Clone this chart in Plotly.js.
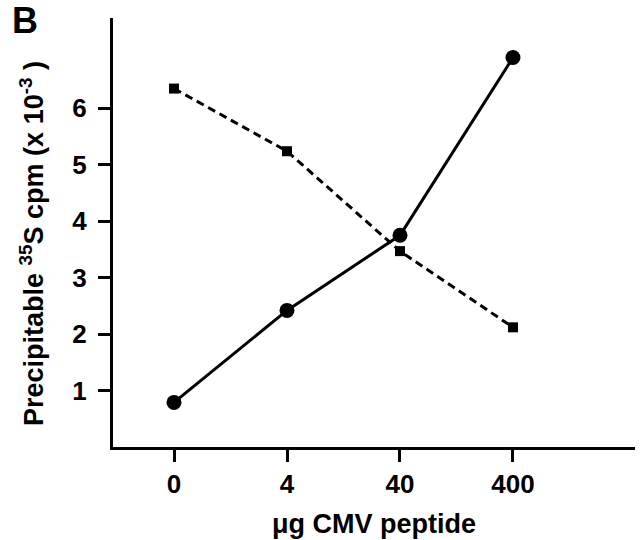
<!DOCTYPE html>
<html>
<head>
<meta charset="utf-8">
<script src="https://cdn.plot.ly/plotly-3.0.1.min.js"></script>
<style>html,body{margin:0;padding:0;background:#fff;}#chart{width:642px;height:540px;}</style>
</head>
<body>
<div id="chart"></div>
<script>
// Data
const doseLabels = ['0', '4', '40', '400'];
const circleValues = [0.79, 2.42, 3.75, 6.90];   // solid line, circles
const squareValues = [6.35, 5.24, 3.47, 2.12];   // dashed line, squares
const yTickVals = [1, 2, 3, 4, 5, 6];

const FONT = 'Liberation Sans, Arial, Helvetica, sans-serif';
const L = 113, R = 635, T = 18, B = 447;
const px2x = p => (p - L) / (R - L);
const px2y = p => (B - p) / (B - T);

const traces = [
  {
    x: doseLabels, y: squareValues, type: 'scatter', mode: 'lines+markers',
    line: {color: '#000', width: 3, dash: '8px,5px'},
    marker: {symbol: 'square', size: 10, color: '#000'},
    showlegend: false, cliponaxis: false
  },
  {
    x: doseLabels, y: circleValues, type: 'scatter', mode: 'lines+markers',
    line: {color: '#000', width: 3},
    marker: {symbol: 'circle', size: 15, color: '#000'},
    showlegend: false, cliponaxis: false
  }
];

const layout = {
  width: 642, height: 540,
  margin: {l: L, r: 642 - R, t: T, b: 540 - B},
  paper_bgcolor: '#fff', plot_bgcolor: '#fff',
  font: {family: FONT, color: '#000'},
  xaxis: {
    type: 'category',
    categoryorder: 'array', categoryarray: doseLabels,
    range: [-0.54, 4.08],
    showline: true, linecolor: '#000', linewidth: 3,
    showgrid: false, zeroline: false,
    ticks: 'outside', ticklen: 12, tickwidth: 3, tickcolor: '#000',
    tickfont: {size: 26, family: FONT, weight: 'bold'},
    title: {text: 'μg CMV peptide', font: {size: 27, family: FONT, weight: 'bold'}, standoff: 16},
    automargin: false, fixedrange: true
  },
  yaxis: {
    range: [0, 7.6],
    tickvals: yTickVals,
    showline: true, linecolor: '#000', linewidth: 3,
    showgrid: false, zeroline: false,
    ticks: 'outside', ticklen: 12, tickwidth: 3, tickcolor: '#000',
    ticklabelstandoff: 6,
    tickfont: {size: 26, family: FONT, weight: 'bold'},
    automargin: false, fixedrange: true
  },
  annotations: [
    {
      text: 'Precipitable <sup>35</sup>S cpm (x 10<sup>-3</sup> )',
      xref: 'paper', yref: 'paper', x: px2x(32), y: px2y(244),
      xanchor: 'center', yanchor: 'middle', textangle: -90, showarrow: false,
      font: {size: 27, family: FONT, weight: 'bold', color: '#000'}
    },
    {
      text: 'B', xref: 'paper', yref: 'paper',
      x: px2x(10), y: px2y(-2),
      xanchor: 'left', yanchor: 'top', showarrow: false,
      font: {size: 36, family: FONT, weight: 'bold', color: '#000'}
    }
  ]
};

Plotly.newPlot('chart', traces, layout, {displayModeBar: false, staticPlot: true});
</script>
</body>
</html>
